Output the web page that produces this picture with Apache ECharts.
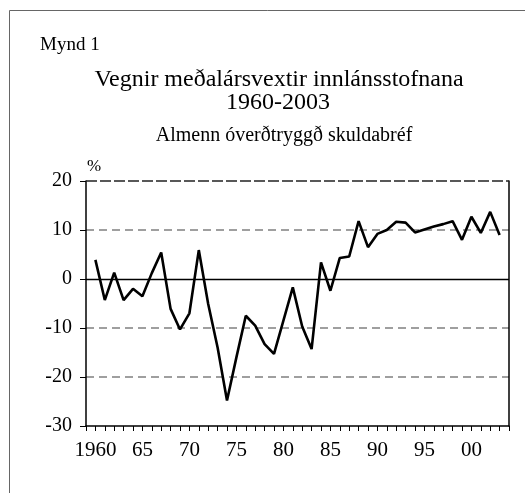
<!DOCTYPE html>
<html>
<head>
<meta charset="utf-8">
<script src="https://cdn.jsdelivr.net/npm/echarts@6/dist/echarts.min.js"></script>
<style>html,body{margin:0;padding:0;background:#fff;}#c{width:525px;height:493px;}</style>
</head>
<body>
<div id="c"></div>
<script>
var years = [1960,1961,1962,1963,1964,1965,1966,1967,1968,1969,
             1970,1971,1972,1973,1974,1975,1976,1977,1978,1979,
             1980,1981,1982,1983,1984,1985,1986,1987,1988,1989,
             1990,1991,1992,1993,1994,1995,1996,1997,1998,1999,
             2000,2001,2002,2003];
var rates = [3.9,-4.3,1.3,-4.3,-2.0,-3.5,1.2,5.4,-6.1,-10.3,
             -7.0,5.9,-5.1,-14.0,-24.8,-16.0,-7.5,-9.5,-13.3,-15.3,
             -8.5,-1.7,-9.7,-14.3,3.4,-2.4,4.3,4.6,11.8,6.5,
             9.2,10.0,11.7,11.5,9.5,10.1,10.7,11.2,11.8,8.0,
             12.7,9.4,13.7,9.0];
var xLabelYears = [1960,1965,1970,1975,1980,1985,1990,1995,2000];
var xLabelTexts = ['1960','65','70','75','80','85','90','95','00'];
var yTicks = [-30,-20,-10,0,10,20];

var FONT = "'Liberation Serif','Times New Roman',serif";
var seriesData = years.map(function(y,i){ return [y, rates[i]]; });

var chart = echarts.init(document.getElementById('c'), null, {renderer:'canvas'});
chart.setOption({
  backgroundColor:'#fff',
  animation:false,
  graphic:[
    {type:'rect', shape:{x:9.5,y:10.5,width:600,height:600}, style:{fill:'none',stroke:'#666',lineWidth:1}, silent:true, z:-1},
    {type:'text', x:40, y:45, style:{text:'Mynd 1', font:'19px '+FONT, fill:'#000', align:'left', verticalAlign:'middle'}},
    {type:'text', x:279, y:80, style:{text:'Vegnir meðalársvextir innlánsstofnana', font:'24px '+FONT, fill:'#000', align:'center', verticalAlign:'middle'}},
    {type:'text', x:278, y:103, style:{text:'1960-2003', font:'24px '+FONT, fill:'#000', align:'center', verticalAlign:'middle'}},
    {type:'text', x:284, y:136, style:{text:'Almenn óverðtryggð skuldabréf', font:'20px '+FONT, fill:'#000', align:'center', verticalAlign:'middle'}},
    {type:'text', x:94, y:167, style:{text:'%', font:'17px '+FONT, fill:'#000', align:'center', verticalAlign:'middle'}}
  ],
  grid:{left:86, right:16, top:181, bottom:67, containLabel:false},
  xAxis:{
    type:'value', min:1959, max:2004, interval:1,
    axisLine:{show:true, onZero:false, lineStyle:{color:'#000', width:1.5}},
    axisTick:{show:true, length:5, lineStyle:{color:'#000', width:1}},
    splitLine:{show:false},
    axisLabel:{
      show:true, margin:14, color:'#000', fontFamily:FONT, fontSize:21,
      showMinLabel:true, showMaxLabel:true, hideOverlap:false,
      formatter:function(v){ var k = xLabelYears.indexOf(Math.round(v)); return k>=0 ? xLabelTexts[k] : ''; }
    }
  },
  yAxis:[{
    type:'value', min:-30, max:20, interval:10, position:'left',
    axisLine:{show:true, onZero:false, lineStyle:{color:'#000', width:1.5}},
    axisTick:{show:true, length:6, lineStyle:{color:'#000'}},
    axisLabel:{color:'#000', fontFamily:FONT, fontSize:20, margin:14,
      formatter:function(v){ return yTicks.indexOf(v)>=0 ? String(v) : ''; }},
    splitLine:{show:true, lineStyle:{type:[8,5], width:1.5, color:['rgba(0,0,0,0)','#808080','#808080','rgba(0,0,0,0)','#808080','rgba(0,0,0,0)']}}
  },{
    type:'value', min:-30, max:20, interval:10, position:'right',
    axisLine:{show:true, onZero:false, lineStyle:{color:'#000', width:1.5}},
    axisTick:{show:false}, axisLabel:{show:false}, splitLine:{show:false}
  }],
  series:[{
    type:'line', data:seriesData, symbol:'none', yAxisIndex:0,
    lineStyle:{color:'#000', width:2.6}, z:5,
    markLine:{
      silent:true, symbol:'none', label:{show:false}, animation:false,
      data:[
        {yAxis:0, lineStyle:{color:'#000', width:1.3, type:'solid'}},
        {yAxis:20, lineStyle:{color:'#222', width:1.5, type:[11,3]}}
      ]
    }
  }]
});
</script>
</body>
</html>
